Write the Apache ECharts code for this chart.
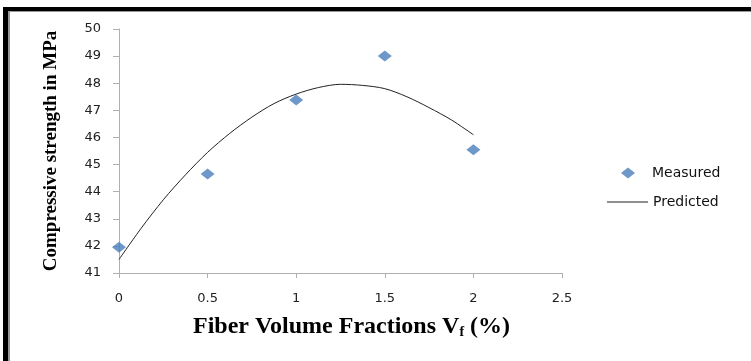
<!DOCTYPE html>
<html>
<head>
<meta charset="utf-8">
<script src="https://cdn.jsdelivr.net/npm/echarts@6/dist/echarts.min.js"></script>
<style>
  html, body { margin: 0; padding: 0; background: #fff; }
  #myChart { width: 751px; height: 361px; }
</style>
</head>
<body>
<div id="myChart"></div>
<script>
// measured points
var measuredX = [0, 0.5, 1, 1.5, 2]
var measuredY = [41.95, 44.65, 47.38, 49.0, 45.55]
// predicted curve
var predictedX = [0, 0.125, 0.25, 0.375, 0.5, 0.625, 0.75, 0.875, 1, 1.125, 1.25, 1.375, 1.5, 1.625, 1.75, 1.875, 2]
var predictedY = [41.5, 42.65, 43.7, 44.62, 45.45, 46.15, 46.75, 47.25, 47.6, 47.84, 47.96, 47.92, 47.8, 47.5, 47.1, 46.65, 46.1]
var yTicks = [41, 50, 1]
var xTicks = [0, 2.5, 0.5]

var myChart = echarts.init(document.getElementById('myChart'))

var measured = []
for (var i = 0; i < measuredX.length; i++) {
  measured.push([measuredX[i], measuredY[i]])
}
var predicted = []
for (var j = 0; j < predictedX.length; j++) {
  predicted.push([predictedX[j], predictedY[j]])
}

var tickFont = {
  color: '#222',
  fontFamily: 'DejaVu Sans',
  fontSize: 13
}
var legendFont = {
  color: '#111',
  fontFamily: 'DejaVu Sans',
  fontSize: 14
}

var option = {
  animation: false,
  backgroundColor: '#fff',
  grid: {
    left: 119,
    top: 29,
    right: 189,
    bottom: 88
  },
  legend: [
    {
      left: 616,
      top: 161,
      icon: 'diamond',
      itemWidth: 14,
      itemHeight: 11,
      itemGap: 0,
      textStyle: Object.assign({ padding: [0, 0, 0, 12] }, legendFont),
      data: ['Measured']
    },
    {
      left: 602,
      top: 190,
      icon: 'rect',
      itemWidth: 41,
      itemHeight: 1,
      textStyle: Object.assign({ padding: [0, 0, 0, 0] }, legendFont),
      data: ['Predicted']
    }
  ],
  xAxis: {
    type: 'value',
    min: xTicks[0],
    max: xTicks[1],
    interval: xTicks[2],
    name: '{b|Fiber Volume Fractions V}{s|f}{b| (%)}',
    nameLocation: 'middle',
    nameGap: 42,
    nameTextStyle: {
      padding: [0, 0, 0, 22],
      rich: {
        b: {
          fontFamily: 'Liberation Serif',
          fontWeight: 'bold',
          fontSize: 24,
          color: '#000'
        },
        s: {
          fontFamily: 'Liberation Serif',
          fontWeight: 'bold',
          fontSize: 14,
          color: '#000',
          verticalAlign: 'bottom',
          padding: [10, 0, 0, 0]
        }
      }
    },
    axisLine: { lineStyle: { color: '#b0b0b0', width: 1 } },
    axisTick: { show: true, inside: false, length: 5, lineStyle: { color: '#b0b0b0' } },
    axisLabel: Object.assign({ margin: 19 }, tickFont),
    splitLine: { show: false }
  },
  yAxis: {
    type: 'value',
    min: yTicks[0],
    max: yTicks[1],
    interval: yTicks[2],
    name: 'Compressive strength in MPa',
    nameLocation: 'middle',
    nameGap: 58,
    nameTextStyle: {
      fontFamily: 'Liberation Serif',
      fontWeight: 'bold',
      fontSize: 19,
      color: '#000'
    },
    axisLine: { show: true, lineStyle: { color: '#b0b0b0', width: 1 } },
    axisTick: { show: true, length: 6, lineStyle: { color: '#b0b0b0' } },
    axisLabel: Object.assign({ margin: 18 }, tickFont),
    splitLine: { show: false }
  },
  series: [
    {
      name: 'Measured',
      type: 'scatter',
      symbol: 'diamond',
      symbolSize: [14, 11],
      itemStyle: { color: '#4a7ebb' },
      data: measured
    },
    {
      name: 'Predicted',
      type: 'line',
      smooth: 0.3,
      showSymbol: false,
      symbol: 'none',
      lineStyle: { color: '#222', width: 1 },
      itemStyle: { color: '#222' },
      data: predicted
    }
  ],
  graphic: [
    // frame round the picture
    { type: 'rect', shape: { x: 3, y: 7, width: 748, height: 4 }, style: { fill: '#000' }, silent: true },
    { type: 'rect', shape: { x: 3, y: 7, width: 5, height: 354 }, style: { fill: '#000' }, silent: true },
    { type: 'rect', shape: { x: 8, y: 11, width: 2, height: 350 }, style: { fill: '#999' }, silent: true },
    { type: 'rect', shape: { x: 8, y: 11, width: 743, height: 1 }, style: { fill: '#999' }, silent: true }
  ]
}

myChart.setOption(option)
</script>
</body>
</html>
